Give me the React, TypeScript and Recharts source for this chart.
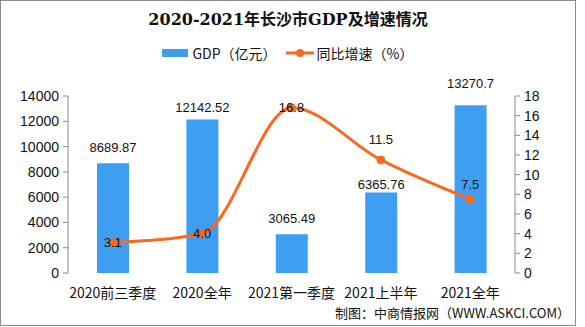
import React from 'react';
import { ComposedChart, Bar, Line, XAxis, YAxis, Legend } from 'recharts';

const categories = ['2020前三季度', '2020全年', '2021第一季度', '2021上半年', '2021全年'];
const gdpValues = [8689.87, 12142.52, 3065.49, 6365.76, 13270.7];
const gdpLabels = ['8689.87', '12142.52', '3065.49', '6365.76', '13270.7'];
const growthValues = [3.1, 4.0, 16.8, 11.5, 7.5];
const growthLabels = ['3.1', '4.0', '16.8', '11.5', '7.5'];
const gdpTicks = [0, 2000, 4000, 6000, 8000, 10000, 12000, 14000];
const rateTicks = [0, 2, 4, 6, 8, 10, 12, 14, 16, 18];
const edgeTicks = [0, 1, 2, 3, 4, 5];

// label lift (style only)
const gdpLabelLift = [16, 12, 16, 8, 22];
const growthLabelLift = [0, 0, 0, 20, 15];

const data = categories.map((name, i) => ({
  name,
  gdp: gdpValues[i],
  rate: growthValues[i],
}));

const BLUE = '#3E9EF2';
const ORANGE = '#F96A1E';
const AXIS = '#8a8a8a';
const FONT = '"Noto Sans CJK SC", "Noto Sans", sans-serif';
const NUMFONT = '"Liberation Sans", "Noto Sans CJK SC", sans-serif';

const GdpLabel = (props: any) => {
  const { x, y, width, index } = props;
  return (
    <text
      x={x + width / 2}
      y={y - gdpLabelLift[index]}
      textAnchor="middle"
      dominantBaseline="central"
      fontSize={13}
      fontFamily={NUMFONT}
      fill="#111"
    >
      {gdpLabels[index]}
    </text>
  );
};

const RateLabel = (props: any) => {
  const { x, y, index } = props;
  return (
    <text
      x={x}
      y={y - growthLabelLift[index]}
      textAnchor="middle"
      dominantBaseline="central"
      fontSize={13}
      fontFamily={NUMFONT}
      fill="#111"
    >
      {growthLabels[index]}
    </text>
  );
};

const LegendContent = () => (
  <div
    style={{
      display: 'flex',
      justifyContent: 'center',
      alignItems: 'center',
      fontFamily: FONT,
      fontSize: 14,
      color: '#111',
      lineHeight: '16px',
    }}
  >
    <span style={{ display: 'inline-block', width: 26, height: 8, background: BLUE, marginRight: 4 }} />
    <span style={{ marginRight: 9 }}>GDP（亿元）</span>
    <svg width={28} height={10} style={{ marginRight: 3 }}>
      <line x1={0} y1={5} x2={28} y2={5} stroke={ORANGE} strokeWidth={3} />
      <circle cx={14} cy={5} r={4} fill={ORANGE} />
    </svg>
    <span>同比增速（%）</span>
  </div>
);

export default function App() {
  return (
    <div style={{ position: 'absolute', left: 0, top: 0, width: 585, height: 327, background: '#fff' }}>
      <div
        style={{
          position: 'absolute',
          left: 0,
          top: 0,
          width: 576,
          height: 326,
          border: '1px solid #8c8c8c',
          boxSizing: 'border-box',
        }}
      />
      <div
        style={{
          position: 'absolute',
          left: 0,
          top: 9,
          width: 576,
          textAlign: 'center',
          fontFamily: '"DejaVu Serif", "Noto Sans CJK SC", serif',
          fontWeight: 700,
          fontSize: 16,
          lineHeight: '22px',
          color: '#111',
        }}
      >
        2020-2021年长沙市GDP及增速情况
      </div>
      <div
        style={{
          position: 'absolute',
          right: 15,
          top: 304,
          fontFamily: FONT,
          fontSize: 13,
          lineHeight: '18px',
          color: '#111',
        }}
      >
        制图：中商情报网（WWW.ASKCI.COM）
      </div>
      <ComposedChart
        width={585}
        height={327}
        data={data}
        margin={{ top: 80, right: 0, bottom: 24, left: 0 }}
        style={{ position: 'absolute', left: 0, top: 0 }}
      >
        <Legend
          verticalAlign="top"
          content={<LegendContent />}
          wrapperStyle={{ position: 'absolute', top: 45, left: 0, width: 576 }}
        />
        <XAxis
          xAxisId="edge"
          type="number"
          domain={[0, 5]}
          ticks={edgeTicks}
          interval={0}
          allowDataOverflow
          tick={false}
          tickSize={5}
          height={0}
          stroke={AXIS}
          axisLine={{ stroke: AXIS }}
          tickLine={{ stroke: AXIS }}
        />
        <XAxis
          xAxisId="cat"
          dataKey="name"
          height={30}
          axisLine={false}
          tickLine={false}
          tickMargin={9}
          interval={0}
          tick={{ fontSize: 14, fontFamily: FONT, fill: '#111' }}
        />
        <YAxis
          yAxisId="gdp"
          width={68}
          domain={[0, 14000]}
          ticks={gdpTicks}
          interval={0}
          tickSize={5}
          tickMargin={4}
          stroke={AXIS}
          tick={{ fontSize: 14, fontFamily: NUMFONT, fill: '#111' }}
        />
        <YAxis
          yAxisId="rate"
          orientation="right"
          width={70}
          domain={[0, 18]}
          ticks={rateTicks}
          interval={0}
          tickSize={5}
          tickMargin={4}
          stroke={AXIS}
          tick={{ fontSize: 14, fontFamily: NUMFONT, fill: '#111' }}
        />
        <Bar
          xAxisId="cat"
          yAxisId="gdp"
          dataKey="gdp"
          name="GDP（亿元）"
          fill={BLUE}
          barSize={32}
          isAnimationActive={false}
          label={<GdpLabel />}
        />
        <Line
          xAxisId="cat"
          yAxisId="rate"
          dataKey="rate"
          name="同比增速（%）"
          type="monotone"
          stroke={ORANGE}
          strokeWidth={3}
          dot={{ r: 4, fill: ORANGE, stroke: ORANGE, strokeWidth: 1 }}
          activeDot={false}
          isAnimationActive={false}
          label={<RateLabel />}
        />
      </ComposedChart>
    </div>
  );
}
